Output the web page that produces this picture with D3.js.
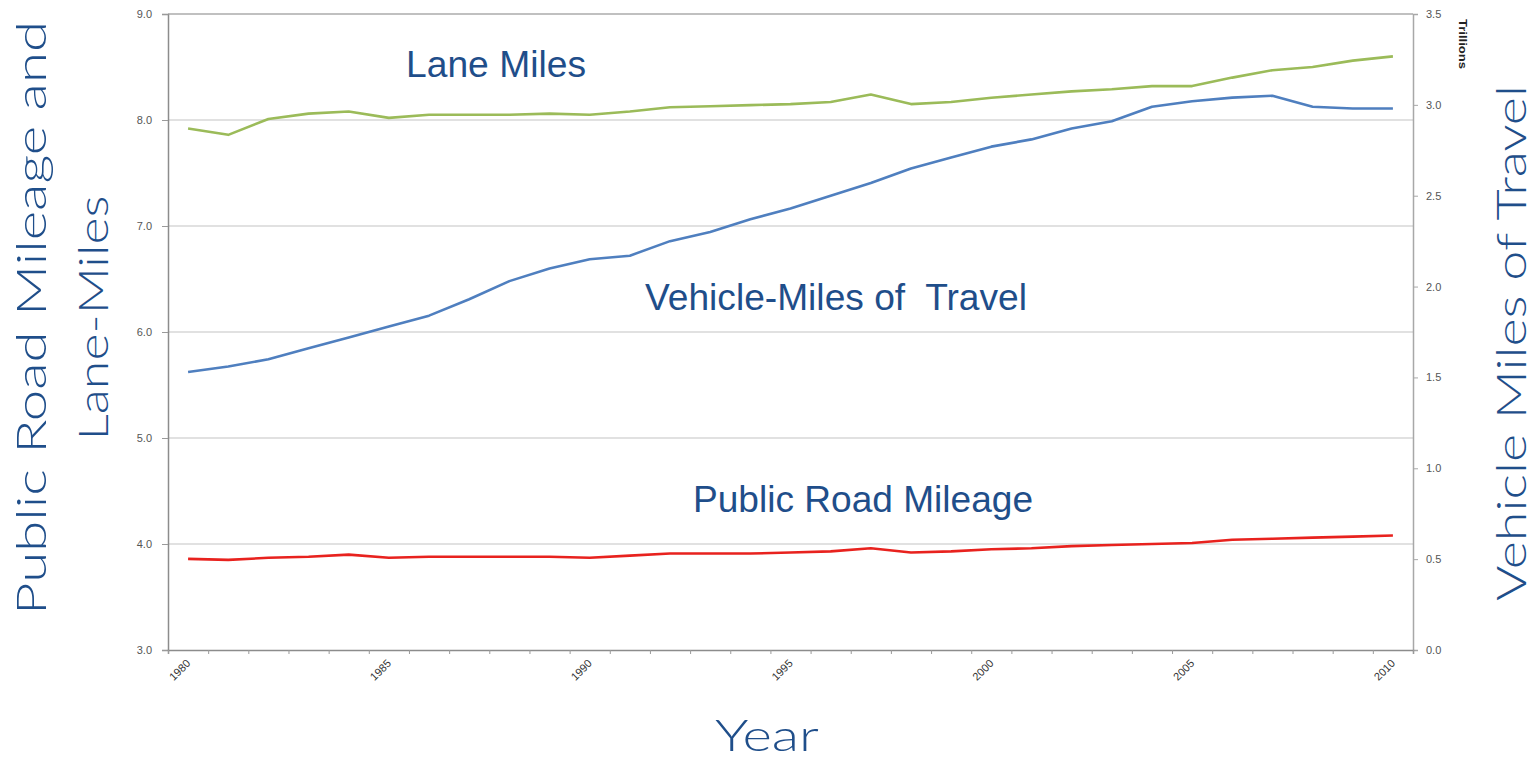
<!DOCTYPE html>
<html>
<head>
<meta charset="utf-8">
<script src="https://cdn.jsdelivr.net/npm/d3@7"></script>
<style>
  body { margin: 0; background: #fff; }
  svg { display: block; }
</style>
</head>
<body>
<div id="chart"></div>
<script>
const years = d3.range(1980, 2011);
const laneMiles = [7.92, 7.86, 8.01, 8.06, 8.08, 8.02, 8.05, 8.05, 8.05, 8.06, 8.05, 8.08, 8.12, 8.13, 8.14, 8.15, 8.17, 8.24, 8.15, 8.17, 8.21, 8.24, 8.27, 8.29, 8.32, 8.32, 8.40, 8.47, 8.50, 8.56, 8.60];
const vmt = [1.53, 1.56, 1.60, 1.66, 1.72, 1.78, 1.84, 1.93, 2.03, 2.10, 2.15, 2.17, 2.25, 2.30, 2.37, 2.43, 2.50, 2.57, 2.65, 2.71, 2.77, 2.81, 2.87, 2.91, 2.99, 3.02, 3.04, 3.05, 2.99, 2.98, 2.98];
const roadMiles = [3.86, 3.85, 3.87, 3.88, 3.90, 3.87, 3.88, 3.88, 3.88, 3.88, 3.87, 3.89, 3.91, 3.91, 3.91, 3.92, 3.93, 3.96, 3.92, 3.93, 3.95, 3.96, 3.98, 3.99, 4.00, 4.01, 4.04, 4.05, 4.06, 4.07, 4.08];
const leftTicks = [3, 4, 5, 6, 7, 8, 9];
const rightTicks = [0, 0.5, 1, 1.5, 2, 2.5, 3, 3.5];
const yearLabels = [1980, 1985, 1990, 1995, 2000, 2005, 2010];

const width = 1540, height = 759;
const plot = { left: 168, right: 1413, top: 14, bottom: 650 };
const titleColor = "#1f4e8a";

const svg = d3.select("#chart").append("svg")
  .attr("width", width)
  .attr("height", height);

const x = d3.scaleBand().domain(years).range([plot.left, plot.right]).padding(0);
const xc = d => x(d) + x.bandwidth() / 2;
const xEdge = d3.scaleLinear().domain([0, years.length]).range([plot.left, plot.right]);
const yL = d3.scaleLinear().domain([3, 9]).range([plot.bottom, plot.top]);
const yR = d3.scaleLinear().domain([0, 3.5]).range([plot.bottom, plot.top]);

// grid lines
svg.append("g")
  .selectAll("line")
  .data(leftTicks.slice(1))
  .join("line")
  .attr("x1", plot.left).attr("x2", plot.right)
  .attr("y1", d => yL(d)).attr("y2", d => yL(d))
  .attr("stroke", "#c4c4c4")
  .attr("stroke-width", 1.2);

// left axis
const gl = svg.append("g")
  .attr("transform", `translate(${plot.left},0)`)
  .call(d3.axisLeft(yL).tickValues(leftTicks).tickFormat(d3.format(".1f")).tickSize(6).tickPadding(10));
gl.select(".domain").attr("stroke", "#8c8c8c").attr("stroke-width", 1.5);
gl.selectAll(".tick line").attr("stroke", "#9a9a9a");
gl.selectAll("text").attr("fill", "#555").attr("font-size", 11).attr("font-family", "Liberation Sans, Arial, sans-serif");

// right axis
const gr = svg.append("g")
  .attr("transform", `translate(${plot.right},0)`)
  .call(d3.axisRight(yR).tickValues(rightTicks).tickFormat(d3.format(".1f")).tickSize(5).tickPadding(8));
gr.select(".domain").attr("stroke", "#a8a8a8").attr("stroke-width", 1.5);
gr.selectAll(".tick line").attr("stroke", "#a8a8a8");
gr.selectAll("text").attr("fill", "#555").attr("font-size", 11).attr("font-family", "Liberation Sans, Arial, sans-serif");

// bottom axis: tick marks between categories
const gb = svg.append("g")
  .attr("transform", `translate(0,${plot.bottom})`)
  .call(d3.axisBottom(xEdge).tickValues(d3.range(0, years.length + 1)).tickFormat("").tickSize(4));
gb.select(".domain").attr("stroke", "#8c8c8c").attr("stroke-width", 1.5);
gb.selectAll(".tick line").attr("stroke", "#9a9a9a");

// year labels, rotated
svg.append("g")
  .selectAll("text")
  .data(yearLabels)
  .join("text")
  .attr("transform", d => `translate(${xc(d) + 3},${plot.bottom + 14}) rotate(-45)`)
  .attr("text-anchor", "end")
  .attr("font-family", "Liberation Sans, Arial, sans-serif")
  .attr("font-size", 11)
  .attr("fill", "#333")
  .text(d => d);

// top border
svg.append("line")
  .attr("x1", plot.left).attr("x2", plot.right)
  .attr("y1", plot.top).attr("y2", plot.top)
  .attr("stroke", "#a0a0a0").attr("stroke-width", 1.2);

// series
const series = [
  { values: laneMiles, y: yL, color: "#9bbb59" },
  { values: vmt, y: yR, color: "#4f7fbf" },
  { values: roadMiles, y: yL, color: "#e8221e" }
];
series.forEach(s => {
  const line = d3.line()
    .x((d, i) => xc(years[i]))
    .y(d => s.y(d));
  svg.append("path")
    .datum(s.values)
    .attr("d", line)
    .attr("fill", "none")
    .attr("stroke", s.color)
    .attr("stroke-width", 2.6)
    .attr("stroke-linejoin", "round");
});

// inline labels
const labelFont = "Liberation Sans, Arial, sans-serif";
[
  { text: "Lane Miles", x: 406, y: 77, len: 180 },
  { text: "Vehicle-Miles of  Travel", x: 645, y: 310, len: 382 },
  { text: "Public Road Mileage", x: 693, y: 512, len: 340 }
].forEach(d => {
  svg.append("text")
    .attr("x", d.x).attr("y", d.y)
    .attr("font-family", labelFont)
    .attr("font-size", 37)
    .attr("fill", titleColor)
    .attr("textLength", d.len)
    .attr("lengthAdjust", "spacingAndGlyphs")
    .style("white-space", "pre")
    .text(d.text);
});

// axis titles
const titleFont = "Lato, 'Open Sans', sans-serif";
svg.append("text")
  .attr("transform", "translate(46,318) rotate(-90)")
  .attr("text-anchor", "middle")
  .attr("font-family", titleFont)
  .attr("font-weight", 300)
  .attr("font-size", 42)
  .attr("fill", titleColor)
  .attr("textLength", 594)
  .attr("lengthAdjust", "spacingAndGlyphs")
  .text("Public Road Mileage and");
svg.append("text")
  .attr("transform", "translate(108,318) rotate(-90)")
  .attr("text-anchor", "middle")
  .attr("font-family", titleFont)
  .attr("font-weight", 300)
  .attr("font-size", 42)
  .attr("fill", titleColor)
  .attr("textLength", 245)
  .attr("lengthAdjust", "spacingAndGlyphs")
  .text("Lane-Miles");
svg.append("text")
  .attr("transform", "translate(1526,343) rotate(-90)")
  .attr("text-anchor", "middle")
  .attr("font-family", titleFont)
  .attr("font-weight", 300)
  .attr("font-size", 42)
  .attr("fill", titleColor)
  .attr("textLength", 516)
  .attr("lengthAdjust", "spacingAndGlyphs")
  .text("Vehicle Miles of Travel");
svg.append("text")
  .attr("x", 767).attr("y", 751)
  .attr("text-anchor", "middle")
  .attr("font-family", titleFont)
  .attr("font-weight", 300)
  .attr("font-size", 44)
  .attr("fill", titleColor)
  .attr("textLength", 104)
  .attr("lengthAdjust", "spacingAndGlyphs")
  .text("Year");

// units note
svg.append("text")
  .attr("transform", "translate(1459,44) rotate(90)")
  .attr("text-anchor", "middle")
  .attr("font-family", "Liberation Sans, Arial, sans-serif")
  .attr("font-weight", "bold")
  .attr("font-size", 11)
  .attr("fill", "#222")
  .attr("textLength", 50)
  .attr("lengthAdjust", "spacingAndGlyphs")
  .text("Trillions");
</script>
</body>
</html>
